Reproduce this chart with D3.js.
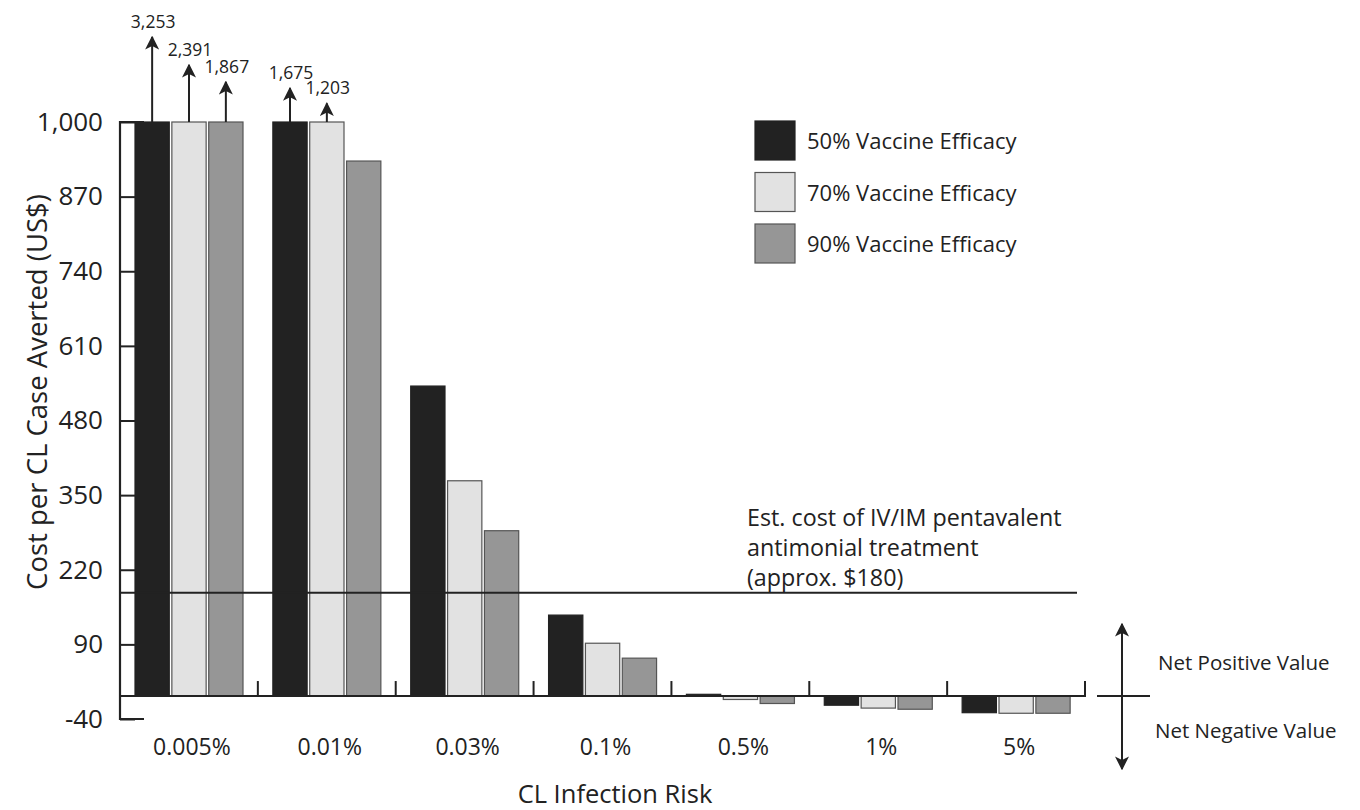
<!DOCTYPE html>
<html>
<head>
<meta charset="utf-8">
<script src="https://cdn.jsdelivr.net/npm/d3@7"></script>
<style>
  body { margin: 0; background: #fff; }
  svg { font-family: "Open Sans", "Noto Sans", sans-serif; }
</style>
</head>
<body>
<svg width="1360" height="810"></svg>
<script>
// data
const risks = ["0.005%", "0.01%", "0.03%", "0.1%", "0.5%", "1%", "5%"];
const efficacies = ["50% Vaccine Efficacy", "70% Vaccine Efficacy", "90% Vaccine Efficacy"];
const eff50 = [3253, 1675, 540, 141, 3, -16, -29];
const eff70 = [2391, 1203, 375, 92, -6, -21, -30];
const eff90 = [1867, 932, 288, 66, -13, -23, -30];
const yTicks = [1000, 870, 740, 610, 480, 350, 220, 90, -40];
const treatmentCost = 180;
const yMax = 1000;

const series = [eff50, eff70, eff90];
const fills = ["#222222", "#e2e2e2", "#969696"];
const strokes = ["#222222", "#555555", "#555555"];

const svg = d3.select("svg");

const x = d3.scaleBand().domain(risks).range([120, 1085]);
const xs = d3.scaleBand().domain(d3.range(3)).range([15, 123]).paddingInner(0.07);
const y = d3.scaleLinear().domain([-40, 1000]).range([719, 122]);
// how far the "off scale" arrows reach above the 1,000 cap
const arrowLen = d3.scaleLinear().domain([1000, 3253]).range([12, 85]);
const fmt = v => d3.format(",")(v).replace("\u2212", "-");

const cells = [];
series.forEach((vals, s) => vals.forEach((v, i) => cells.push({risk: risks[i], s, v})));

// bars
svg.append("g")
  .selectAll("rect")
  .data(cells)
  .join("rect")
    .attr("x", d => x(d.risk) + xs(d.s))
    .attr("width", xs.bandwidth())
    .attr("y", d => Math.min(y(Math.min(d.v, yMax)), y(0)))
    .attr("height", d => Math.abs(y(Math.min(d.v, yMax)) - y(0)))
    .attr("fill", d => fills[d.s])
    .attr("stroke", d => strokes[d.s])
    .attr("stroke-width", 1.2);

// threshold line
svg.append("line")
  .attr("x1", 120).attr("x2", 1077)
  .attr("y1", y(treatmentCost)).attr("y2", y(treatmentCost))
  .attr("stroke", "#222").attr("stroke-width", 2);

svg.append("text")
  .attr("x", 747).attr("y", y(treatmentCost) - 67)
  .attr("font-size", 23.3).attr("fill", "#222")
  .selectAll("tspan")
  .data(["Est. cost of IV/IM pentavalent", "antimonial treatment", "(approx. $180)"])
  .join("tspan")
    .attr("x", 747)
    .attr("dy", (d, i) => i ? 30 : 0)
    .text(d => d);

// baseline with group ticks
const base = svg.append("g").attr("stroke", "#222").attr("stroke-width", 2);
base.append("line")
  .attr("x1", 119).attr("x2", 1086)
  .attr("y1", y(0)).attr("y2", y(0));
base.selectAll("line.gt")
  .data(risks)
  .join("line")
    .attr("class", "gt")
    .attr("x1", d => x(d) + x.bandwidth()).attr("x2", d => x(d) + x.bandwidth())
    .attr("y1", y(0)).attr("y2", y(0) - 15);

// y axis
const yAxis = svg.append("g")
  .attr("transform", "translate(120,0)")
  .call(d3.axisLeft(y).tickValues(yTicks).tickFormat(fmt).tickSizeInner(-15).tickSizeOuter(0).tickPadding(17));
yAxis.select(".domain").remove();
yAxis.selectAll(".tick line").attr("stroke", "#222").attr("stroke-width", 2);
yAxis.selectAll(".tick text").attr("font-size", 26).attr("fill", "#222").attr("font-family", "Open Sans");
// axis spine with corners reaching into the plot
yAxis.append("path")
  .attr("fill", "none").attr("stroke", "#222").attr("stroke-width", 2.2)
  .attr("d", d3.line()([[24, y(1000)], [0, y(1000)], [0, y(-40)], [24, y(-40)]]));

svg.append("text")
  .attr("transform", `translate(47,392) rotate(-90)`)
  .attr("text-anchor", "middle")
  .attr("font-size", 27.5).attr("fill", "#222")
  .text("Cost per CL Case Averted (US$)");

// x labels
svg.append("g")
  .selectAll("text")
  .data(risks)
  .join("text")
    .attr("x", d => x(d) + x.bandwidth() / 2 + 3)
    .attr("y", 755)
    .attr("text-anchor", "middle")
    .attr("font-size", 23).attr("fill", "#222")
    .text(d => d);

svg.append("text")
  .attr("x", 615).attr("y", 803)
  .attr("text-anchor", "middle")
  .attr("font-size", 25.5).attr("fill", "#222")
  .text("CL Infection Risk");

// off-scale arrows
const defs = svg.append("defs");
defs.append("marker")
  .attr("id", "head")
  .attr("viewBox", "0 0 10 10")
  .attr("refX", 9).attr("refY", 5)
  .attr("markerWidth", 7).attr("markerHeight", 7)
  .attr("markerUnits", "strokeWidth")
  .attr("orient", "auto-start-reverse")
  .append("path").attr("d", "M0,0 L10,5 L0,10 L2.5,5 Z").attr("fill", "#222");

const over = cells.filter(d => d.v > yMax);
const ov = svg.append("g");
ov.selectAll("line")
  .data(over)
  .join("line")
    .attr("x1", d => x(d.risk) + xs(d.s) + xs.bandwidth() / 2)
    .attr("x2", d => x(d.risk) + xs(d.s) + xs.bandwidth() / 2)
    .attr("y1", y(yMax))
    .attr("y2", d => y(yMax) - arrowLen(d.v))
    .attr("stroke", "#222").attr("stroke-width", 2)
    .attr("marker-end", "url(#head)");
ov.selectAll("text")
  .data(over)
  .join("text")
    .attr("x", d => x(d.risk) + xs(d.s) + xs.bandwidth() / 2 + 1)
    .attr("y", d => y(yMax) - arrowLen(d.v) - 9)
    .attr("text-anchor", "middle")
    .attr("font-size", 17.5).attr("fill", "#222")
    .text(d => fmt(d.v));

// legend
const leg = svg.append("g").attr("transform", "translate(755,121)");
leg.selectAll("rect")
  .data(efficacies)
  .join("rect")
    .attr("x", 0).attr("y", (d, i) => i * 51.5)
    .attr("width", 40).attr("height", 39)
    .attr("fill", (d, i) => fills[i])
    .attr("stroke", (d, i) => strokes[i]).attr("stroke-width", 1.2);
leg.selectAll("text")
  .data(efficacies)
  .join("text")
    .attr("x", 52).attr("y", (d, i) => i * 51.5 + 28)
    .attr("font-size", 22).attr("fill", "#222")
    .text(d => d);

// net value indicator
const nv = svg.append("g").attr("stroke", "#222").attr("stroke-width", 2);
nv.append("line").attr("x1", 1097).attr("x2", 1150).attr("y1", y(0)).attr("y2", y(0));
nv.append("line").attr("x1", 1122).attr("x2", 1122).attr("y1", y(0)).attr("y2", 624)
  .attr("marker-end", "url(#head)");
nv.append("line").attr("x1", 1122).attr("x2", 1122).attr("y1", y(0)).attr("y2", 769)
  .attr("marker-end", "url(#head)");
svg.append("text").attr("x", 1158).attr("y", 670)
  .attr("font-size", 20.5).attr("fill", "#222").text("Net Positive Value");
svg.append("text").attr("x", 1155).attr("y", 738)
  .attr("font-size", 20.5).attr("fill", "#222").text("Net Negative Value");
</script>
</body>
</html>
